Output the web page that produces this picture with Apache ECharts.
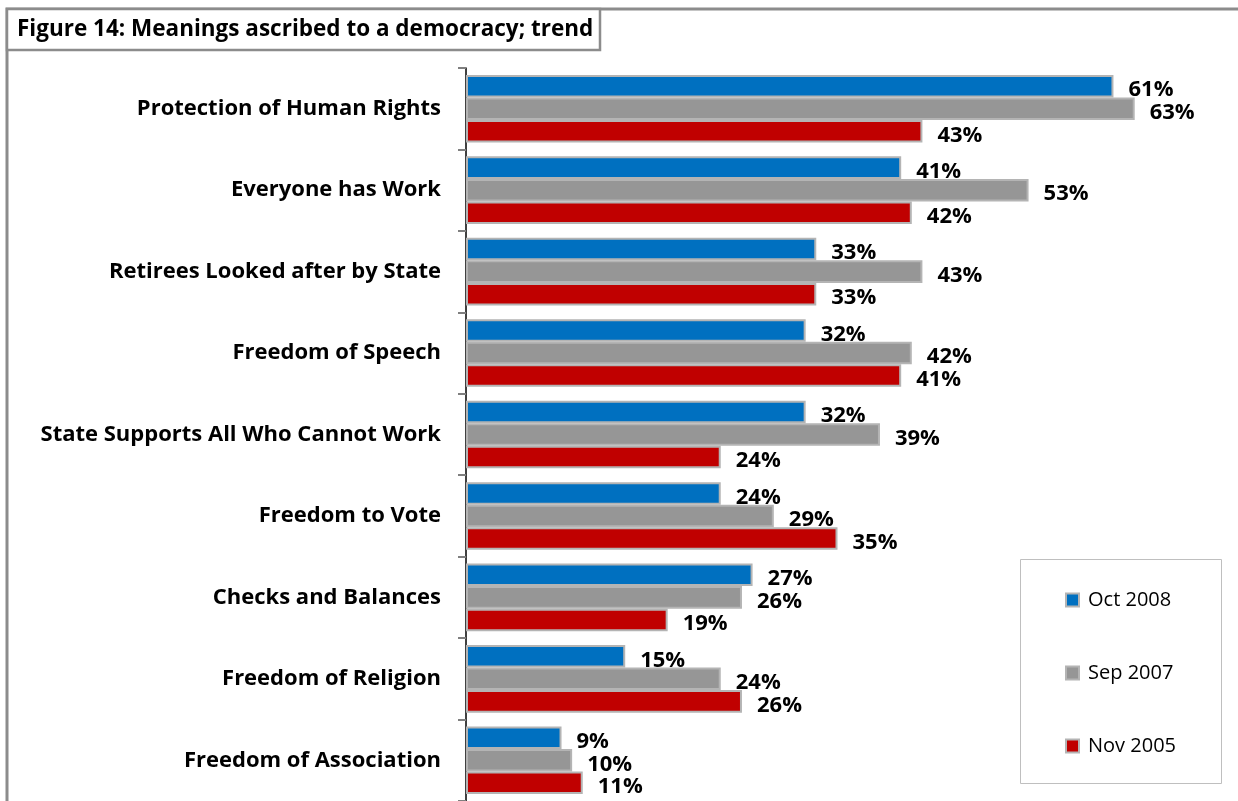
<!DOCTYPE html>
<html>
<head>
<meta charset="utf-8">
<title>Figure 14: Meanings ascribed to a democracy; trend</title>
<script src="https://cdn.jsdelivr.net/npm/echarts@6/dist/echarts.min.js"></script>
<style>
  html, body { margin: 0; padding: 0; background: #ffffff; }
  #chart { width: 1238px; height: 801px; }
</style>
</head>
<body>
<div id="chart"></div>
<script>
// Categories, top to bottom
const categories = [
  'Protection of Human Rights',
  'Everyone has Work',
  'Retirees Looked after by State',
  'Freedom of Speech',
  'State Supports All Who Cannot Work',
  'Freedom to Vote',
  'Checks and Balances',
  'Freedom of Religion',
  'Freedom of Association'
];

// Survey waves (percent)
const oct2008 = [61, 41, 33, 32, 32, 24, 27, 15, 9];
const sep2007 = [63, 53, 43, 42, 39, 29, 26, 24, 10];
const nov2005 = [43, 42, 33, 41, 24, 35, 19, 26, 11];

const seriesNames = ['Oct 2008', 'Sep 2007', 'Nov 2005'];
const seriesData = [oct2008, sep2007, nov2005];
const seriesColors = ['#0070C0', '#969696', '#C00000'];

const FONT = '"Open Sans", Lato, sans-serif';

const chart = echarts.init(document.getElementById('chart'), null, { renderer: 'canvas' });

const series = seriesNames.map((name, i) => ({
  name: name,
  type: 'bar',
  data: seriesData[i],
  barGap: '0%',
  barCategoryGap: '17%',
  itemStyle: {
    color: seriesColors[i],
    borderColor: '#b4b4b4',
    borderWidth: 2
  },
  label: {
    show: true,
    position: 'right',
    distance: 15,
    offset: [0, 4],
    formatter: '{c}%',
    color: '#000',
    fontFamily: FONT,
    fontWeight: 'bold',
    fontSize: 22
  },
  emphasis: { disabled: true },
  animation: false
}));

chart.setOption({
  backgroundColor: '#ffffff',
  animation: false,
  grid: {
    left: 466,
    right: 29,
    top: 68,
    height: 737,
    containLabel: false
  },
  xAxis: {
    type: 'value',
    min: 0,
    max: 70,
    show: false
  },
  yAxis: {
    type: 'category',
    data: categories,
    inverse: true,
    axisLine: { show: true, lineStyle: { color: '#000', width: 1.5 } },
    axisTick: { show: true, length: 8, lineStyle: { color: '#7f7f7f', width: 2 } },
    axisLabel: {
      margin: 25,
      color: '#000',
      fontFamily: FONT,
      fontWeight: 'bold',
      fontSize: 22
    },
    splitLine: { show: false }
  },
  legend: {
    orient: 'vertical',
    left: 1060,
    top: 585,
    itemWidth: 13,
    itemHeight: 13,
    itemGap: 53,
    icon: 'rect',
    selectedMode: false,
    textStyle: { fontFamily: FONT, fontSize: 20, color: '#000', padding: [0, 0, 0, 4] },
    data: seriesNames
  },
  graphic: [
    // outer frame: top and left edges
    {
      type: 'polyline',
      shape: { points: [[7, 801], [7, 9], [1238, 9]] },
      style: { stroke: '#8c8c8c', lineWidth: 3, fill: null },
      silent: true
    },
    // title box
    {
      type: 'rect',
      shape: { x: 7, y: 9, width: 593, height: 41 },
      style: { fill: '#ffffff', stroke: '#8c8c8c', lineWidth: 2.5 },
      silent: true
    },
    {
      type: 'text',
      x: 17,
      y: 30,
      style: {
        text: 'Figure 14: Meanings ascribed to a democracy; trend',
        fontFamily: FONT,
        fontWeight: 'bold',
        fontSize: 22.5,
        fill: '#000',
        verticalAlign: 'middle'
      },
      silent: true
    },
    // legend frame
    {
      type: 'rect',
      shape: { x: 1020.5, y: 559.5, width: 201, height: 224 },
      style: { fill: null, stroke: '#bfbfbf', lineWidth: 1 },
      silent: true,
      z: -1
    }
  ],
  series: series
});
</script>
</body>
</html>
